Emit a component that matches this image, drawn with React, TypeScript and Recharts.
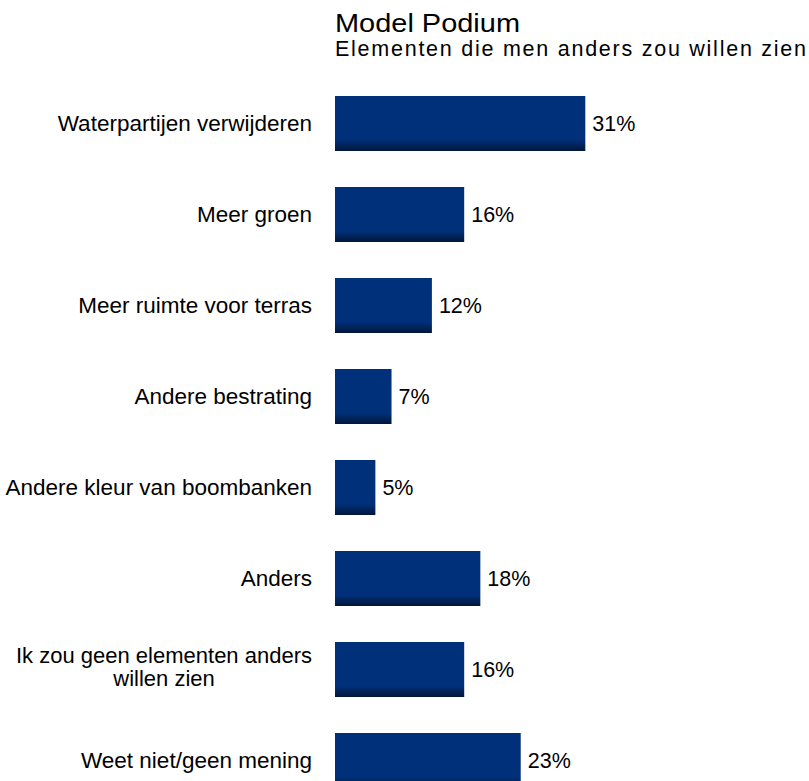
import { BarChart, Bar, XAxis, YAxis, LabelList } from 'recharts';

const categories = [
  'Waterpartijen verwijderen',
  'Meer groen',
  'Meer ruimte voor terras',
  'Andere bestrating',
  'Andere kleur van boombanken',
  'Anders',
  'Ik zou geen elementen  anders\nwillen zien',
  'Weet niet/geen mening',
];
const values = [31, 16, 12, 7, 5, 18, 16, 23];

const data = categories.map((name, i) => ({ name, value: values[i] }));

const FONT = '"Liberation Sans", Arial, sans-serif';
const LABEL_RIGHT = 312;

function CategoryTick(props: any) {
  const { y, payload } = props;
  const lines = String(payload.value).split('\n');
  if (lines.length === 1) {
    return (
      <text x={LABEL_RIGHT} y={y} dy="0.35em" textAnchor="end" fill="#000" fontSize={22.5} fontFamily={FONT}>
        {lines[0]}
      </text>
    );
  }
  // two-line label, lines centred on each other
  const cx = LABEL_RIGHT - 148;
  return (
    <text x={cx} y={y} textAnchor="middle" fill="#000" fontSize={22} fontFamily={FONT}>
      {lines.map((l, i) => (
        <tspan key={i} x={cx} dy={i === 0 ? -7 : 23}>{l}</tspan>
      ))}
    </text>
  );
}

export default function App() {
  return (
    <div style={{ position: 'fixed', left: 0, top: 0, width: 809, height: 781, overflow: 'hidden', background: '#fff' }}>
      <svg width={809} height={70} style={{ position: 'absolute', left: 0, top: 0 }}>
        <text x={335} y={32} fontFamily={FONT} fontSize={25} fill="#000" textLength={185} lengthAdjust="spacingAndGlyphs">
          Model Podium
        </text>
        <text x={335} y={56} fontFamily={FONT} fontSize={21.5} fill="#000" textLength={471} lengthAdjust="spacing">
          Elementen die men anders zou willen zien
        </text>
      </svg>
      <div style={{ position: 'absolute', left: 0, top: 0 }}>
        <BarChart
          width={809}
          height={830}
          data={data}
          layout="vertical"
          margin={{ top: 78, right: 151, bottom: 24, left: 35 }}
          barCategoryGap={36}
        >
          <defs>
            <linearGradient id="barFill" x1="0" y1="0" x2="0" y2="1">
              <stop offset="0" stopColor="#00307a" />
              <stop offset="0.8" stopColor="#00307a" />
              <stop offset="1" stopColor="#001738" />
            </linearGradient>
          </defs>
          <XAxis type="number" domain={[0, 40]} hide />
          <YAxis
            type="category"
            dataKey="name"
            axisLine={false}
            tickLine={false}
            width={300}
            tick={(p: any) => <CategoryTick {...p} />}
          />
          <Bar dataKey="value" fill="url(#barFill)" barSize={55} isAnimationActive={false}>
            <LabelList
              dataKey="value"
              position="right"
              offset={7}
              formatter={(v: any) => `${v}%`}
              fill="#000"
              fontSize={21.5}
              fontFamily={FONT}
            />
          </Bar>
        </BarChart>
      </div>
    </div>
  );
}
